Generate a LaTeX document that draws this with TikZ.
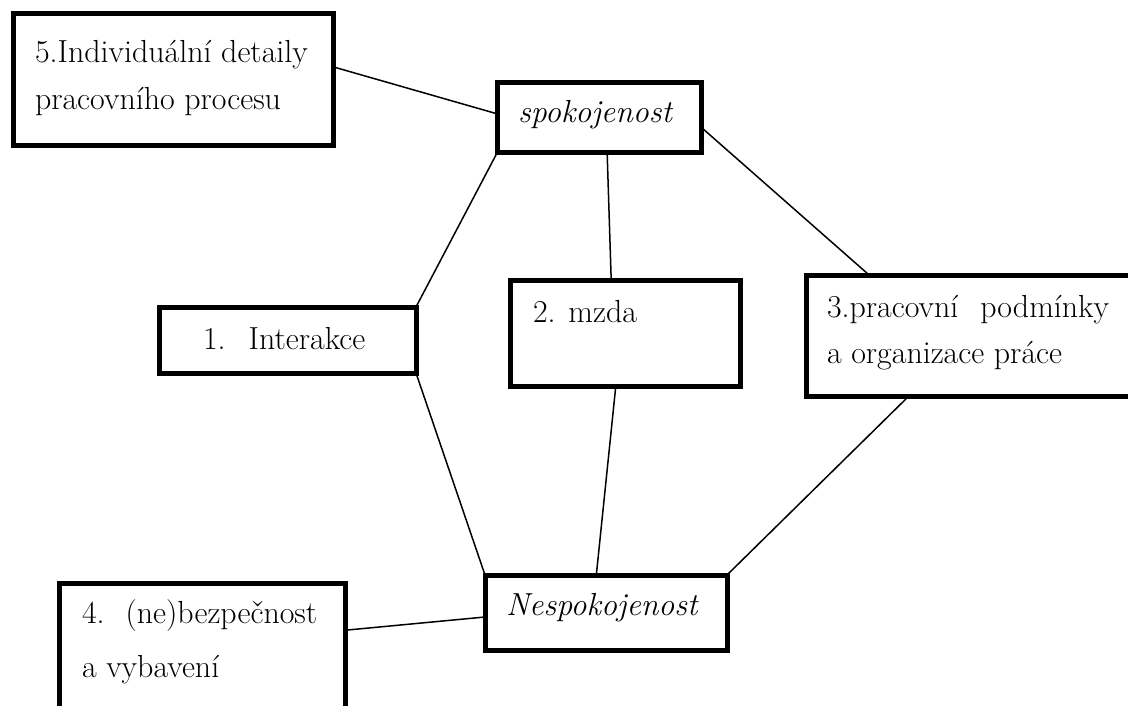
\documentclass[tikz,border=0pt]{standalone}
\usepackage{fontspec}
\usetikzlibrary{calc}
\begin{document}
\begin{tikzpicture}[x=1pt,y=-1pt,
  box/.style={draw=black,line width=5pt,fill=white,inner sep=0pt,outer sep=0pt,rectangle},
  txt/.style={anchor=base west,inner sep=0pt,outer sep=0pt,font=\fontsize{31.9}{47}\selectfont},
  link/.style={draw=black,line width=1.5pt}]
\useasboundingbox (0,0) rectangle (1128,706);
\clip (0,0) rectangle (1128,706);
% boxes
\node[box,minimum width=320pt,minimum height=132pt] (b5) at (173,80) {};
\node[box,minimum width=204pt,minimum height=70pt] (spok) at (599,118) {};
\node[box,minimum width=257pt,minimum height=66pt] (inter) at (287.5,340) {};
\node[box,minimum width=230pt,minimum height=106pt] (mzda) at (625,333) {};
\node[box,minimum width=332pt,minimum height=121pt] (b3) at (972,335.5) {};
\node[box,minimum width=286pt,minimum height=135pt] (b4) at (202,650.5) {};
\node[box,minimum width=242pt,minimum height=75pt] (nesp) at (606,612.5) {};
% connectors
\draw[link] ($(b5.north east)!0.40!(b5.south east)$) -- ($(spok.north west)!0.44!(spok.south west)$);
\draw[link] (spok.south west) -- (inter.north east);
\draw[link] ($(spok.south west)!0.54!(spok.south east)$) -- ($(mzda.north west)!0.44!(mzda.north east)$);
\draw[link] ($(spok.north east)!0.63!(spok.south east)$) -- ($(b3.north west)!0.19!(b3.north east)$);
\draw[link] (inter.south east) -- (nesp.north west);
\draw[link] ($(mzda.south west)!0.46!(mzda.south east)$) -- ($(nesp.north west)!0.46!(nesp.north east)$);
\draw[link] ($(b3.south west)!0.31!(b3.south east)$) -- (nesp.north east);
\draw[link] ($(b4.north east)!0.35!(b4.south east)$) -- ($(nesp.north west)!0.56!(nesp.south west)$);
% texts
\node[txt] (t5a) at (35,63) {5.Individuální detaily};
\node[txt] (t5b) at (35,110) {pracovního procesu};
\node[txt] (tspok) at (518,123) {\itshape spokojenost};
\node[txt] (t1) at (203,349) {1.\hspace{23pt}Interakce};
\node[txt] (t2) at (533,322) {2. mzda};
\node[txt] (t3a) at (827,317) {3.pracovní\hspace{22pt}podmínky};
\node[txt] (t3b) at (827,363) {a organizace práce};
\node[txt] (t4a) at (82,623) {4.\hspace{21pt}(ne)bezpečnost};
\node[txt] (t4b) at (82,677) {a vybavení};
\node[txt] (tnesp) at (506,615) {\itshape Nespokojenost};
\end{tikzpicture}
\end{document}
